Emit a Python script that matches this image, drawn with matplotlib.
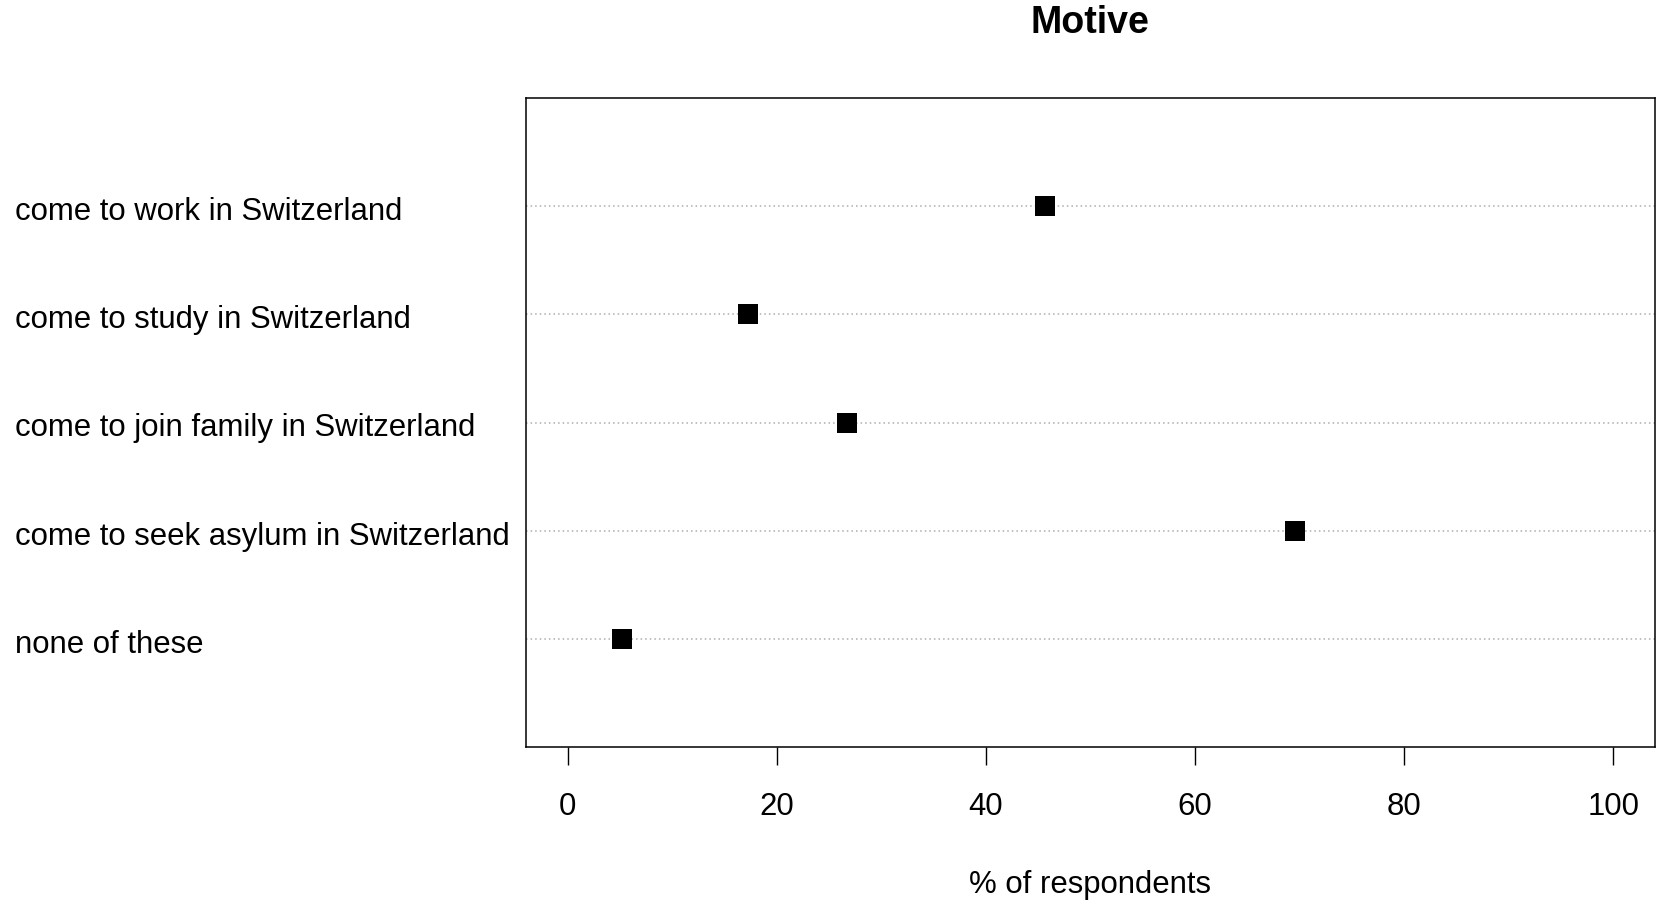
import matplotlib
matplotlib.use('Agg')
import matplotlib.pyplot as plt
import matplotlib.transforms as mtransforms

# ── Data ───────────────────────────────────────────────────────────────
categories = [
    'come to work in Switzerland',
    'come to study in Switzerland',
    'come to join family in Switzerland',
    'come to seek asylum in Switzerland',
    'none of these',
]
percent = [45.6, 17.2, 26.7, 69.6, 5.2]
xticks = [0, 20, 40, 60, 80, 100]

# ── Style ──────────────────────────────────────────────────────────────
plt.rcParams['font.family'] = ['Liberation Sans', 'DejaVu Sans']
FS = 22.4
W, H, DPI = 1659, 903, 100

fig = plt.figure(figsize=(W / DPI, H / DPI), dpi=DPI)
fig.set_facecolor('white')
ax = fig.add_axes([526 / W, 1 - 748 / H, (1655 - 526) / W, (748 - 99) / H])

n = len(categories)
ypos = list(range(n, 0, -1))  # top row first, like R dotchart

for y in ypos:
    ax.axhline(y, color='#ADADAD', lw=1.1, ls=(0, (1, 2)), zorder=1)
ax.scatter(percent, ypos, marker='s', s=15 ** 2, color='black', zorder=3, linewidths=0)

ax.set_xlim(-4, 104)
ax.set_ylim(0, n + 1)
ax.set_xticks(xticks)
ax.set_xticklabels([str(t) for t in xticks], fontsize=FS)
ax.set_yticks([])
ax.tick_params(axis='x', length=13, width=1, pad=19, color='black')
for spine in ax.spines.values():
    spine.set_linewidth(1.1)
    spine.set_color('black')

# category labels, left-aligned near the figure edge (slightly below the row)
trans = mtransforms.blended_transform_factory(fig.transFigure, ax.transData)
trans = trans + mtransforms.ScaledTranslation(0, -5 / DPI, fig.dpi_scale_trans)
for label, y in zip(categories, ypos):
    ax.text(15 / W, y, label, transform=trans, ha='left', va='center',
            fontsize=FS, color='black')

fig.text(1090 / W, 1 - 23 / H, 'Motive', ha='center', va='center',
         fontsize=27, fontweight='bold')
fig.text(1090 / W, 1 - 885 / H, '% of respondents', ha='center', va='center',
         fontsize=FS)

fig.savefig('out.png', dpi=DPI, facecolor='white')
